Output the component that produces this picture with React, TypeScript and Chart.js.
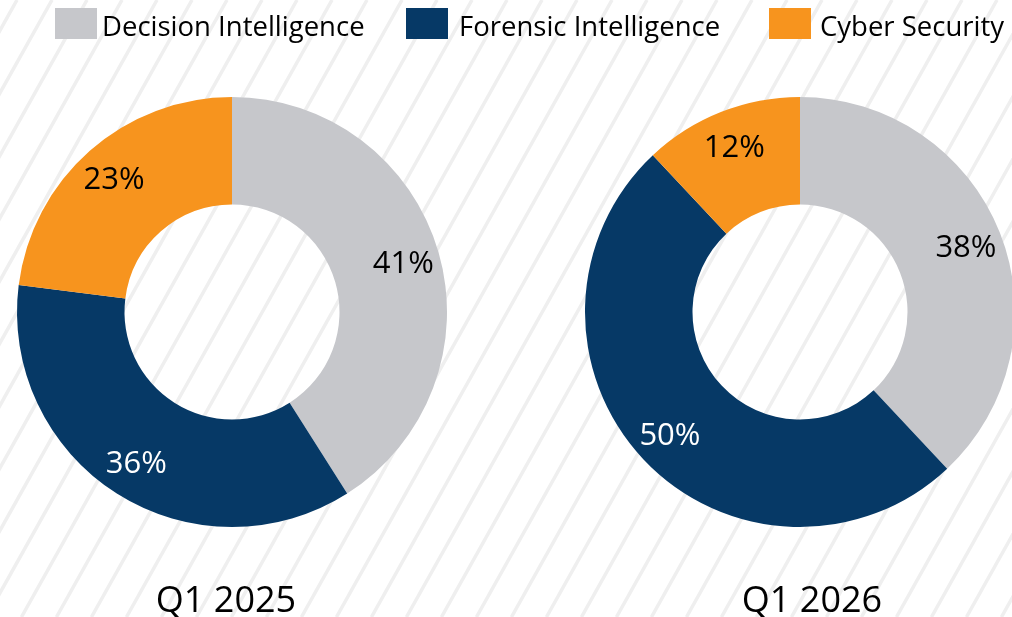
import React, { useEffect, useRef } from 'react';
import { Chart, registerables } from 'chart.js';

Chart.register(...registerables);

const categories = ['Decision Intelligence', 'Forensic Intelligence', 'Cyber Security'];
const periods = ['Q1 2025', 'Q1 2026'];
const share2025 = [41, 36, 23];
const share2026 = [38, 50, 12];
const sliceColors = ['#C6C7CB', '#063966', '#F7941E'];
const labelColors = ['#000000', '#FFFFFF', '#000000'];

const FONT = '"Open Sans", sans-serif';

const sliceLabels = {
  id: 'sliceLabels',
  afterDatasetsDraw(chart: any) {
    const ctx = chart.ctx;
    const meta = chart.getDatasetMeta(0);
    const data = chart.data.datasets[0].data;
    ctx.save();
    ctx.font = `31px ${FONT}`;
    ctx.textAlign = 'center';
    ctx.textBaseline = 'middle';
    meta.data.forEach((arc: any, i: number) => {
      const p = arc.getProps(['x', 'y', 'startAngle', 'endAngle', 'innerRadius', 'outerRadius'], true);
      const mid = (p.startAngle + p.endAngle) / 2;
      const r = p.innerRadius + (p.outerRadius - p.innerRadius) * 0.66;
      ctx.fillStyle = labelColors[i];
      ctx.fillText(`${data[i]}%`, p.x + Math.cos(mid) * r, p.y + Math.sin(mid) * r + 2);
    });
    ctx.restore();
  },
};

const caption = {
  id: 'caption',
  afterDraw(chart: any, _args: any, opts: any) {
    const ctx = chart.ctx;
    ctx.save();
    ctx.font = `36px ${FONT}`;
    ctx.fillStyle = '#000000';
    ctx.textAlign = 'center';
    ctx.textBaseline = 'alphabetic';
    const cx = (chart.chartArea.left + chart.chartArea.right) / 2 + opts.dx;
    ctx.fillText(opts.text, cx, opts.baseline);
    ctx.restore();
  },
};

function Donut({ values, period, left, dx }: { values: number[]; period: string; left: number; dx: number }) {
  const ref = useRef<HTMLCanvasElement | null>(null);
  useEffect(() => {
    const chart = new Chart(ref.current as HTMLCanvasElement, {
      type: 'doughnut',
      data: {
        labels: categories,
        datasets: [
          {
            data: values,
            backgroundColor: sliceColors,
            borderWidth: 0,
            hoverOffset: 0,
          },
        ],
      },
      options: {
        responsive: false,
        animation: false,
        cutout: '50%',
        events: [],
        layout: { padding: { top: 97, bottom: 90, left: 0, right: 0 } },
        plugins: {
          legend: { display: false },
          tooltip: { enabled: false },
          caption: { text: period, dx, baseline: 612 },
        } as any,
      },
      plugins: [sliceLabels, caption],
    });
    return () => chart.destroy();
  }, []);
  return (
    <canvas
      ref={ref}
      width={464}
      height={617}
      style={{ position: 'absolute', left, top: 0, width: 464, height: 617 }}
    />
  );
}

function Hatch() {
  const ref = useRef<HTMLCanvasElement | null>(null);
  useEffect(() => {
    const c = ref.current as HTMLCanvasElement;
    const ctx = c.getContext('2d') as CanvasRenderingContext2D;
    ctx.clearRect(0, 0, 1012, 617);
    ctx.strokeStyle = '#efefef';
    ctx.lineWidth = 3.5;
    const slope = 0.56;
    for (let x0 = 17 - 35 * 2; x0 < 1012 + 617 * slope + 35; x0 += 35) {
      ctx.beginPath();
      ctx.moveTo(x0, 0);
      ctx.lineTo(x0 - 617 * slope, 617);
      ctx.stroke();
    }
  }, []);
  return (
    <canvas
      ref={ref}
      width={1012}
      height={617}
      style={{ position: 'absolute', left: 0, top: 0, width: 1012, height: 617 }}
    />
  );
}

const legendBoxLefts = [55, 406, 769];
const legendTextLefts = [102, 459, 820];

export default function App() {
  return (
    <div
      style={{
        position: 'fixed',
        left: 0,
        top: 0,
        width: 1012,
        height: 617,
        overflow: 'hidden',
        background: '#ffffff',
        fontFamily: FONT,
      }}
    >
      <Hatch />
      <Donut values={share2025} period={periods[0]} left={0} dx={-6} />
      <Donut values={share2026} period={periods[1]} left={568} dx={12} />
      {categories.map((c, i) => (
        <React.Fragment key={c}>
          <div
            style={{
              position: 'absolute',
              left: legendBoxLefts[i],
              top: 8,
              width: 42,
              height: 31,
              background: sliceColors[i],
            }}
          />
          <div
            style={{
              position: 'absolute',
              left: legendTextLefts[i],
              top: 10,
              height: 31,
              lineHeight: '31px',
              fontSize: 27.5,
              color: '#000000',
              whiteSpace: 'nowrap',
            }}
          >
            {c}
          </div>
        </React.Fragment>
      ))}
    </div>
  );
}
